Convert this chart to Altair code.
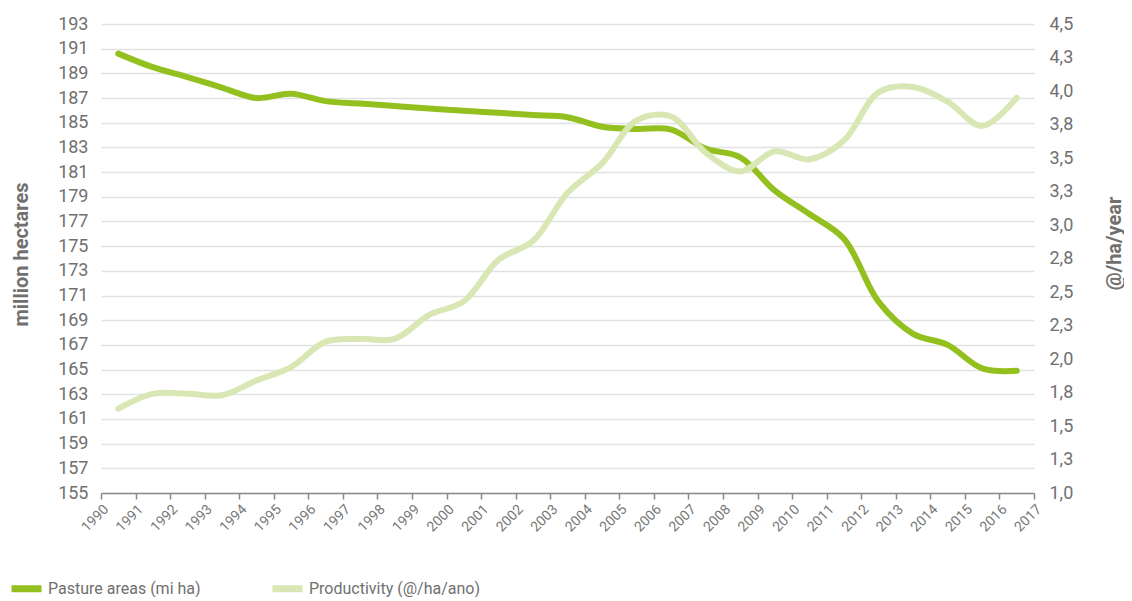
import altair as alt
import pandas as pd

# ---- data ----
years = list(range(1990, 2017))
pasture = [190.6, 189.5, 188.7, 187.85, 187.0, 187.35, 186.75, 186.55, 186.35,
           186.15, 185.98, 185.8, 185.62, 185.45, 184.68, 184.5, 184.45, 182.9,
           182.2, 179.5, 177.6, 175.6, 170.5, 167.9, 167.0, 165.1, 164.9]
productivity = [1.63, 1.74, 1.74, 1.73, 1.84, 1.94, 2.13, 2.15, 2.15,
                2.33, 2.43, 2.74, 2.88, 3.24, 3.46, 3.78, 3.81, 3.54,
                3.40, 3.55, 3.49, 3.63, 3.99, 4.03, 3.92, 3.74, 3.95]
x_ticks = list(range(1990, 2018))
left_ticks = list(range(155, 194, 2))
right_ticks = [1.0, 1.25, 1.5, 1.75, 2.0, 2.25, 2.5, 2.75, 3.0, 3.25, 3.5, 3.75, 4.0, 4.25, 4.5]
series_names = ["Pasture areas (mi ha)", "Productivity (@/ha/ano)"]
colors = ["#93C01F", "#D9E7B4"]

df_p = pd.DataFrame({"year": years, "value": pasture, "series": series_names[0]})
df_q = pd.DataFrame({"year": years, "value": productivity, "series": series_names[1]})

FONT = "Roboto"
GRAY = "#707070"

color = alt.Color(
    "series:N",
    scale=alt.Scale(domain=series_names, range=colors),
    title=None,
    legend=alt.Legend(
        orient="none", legendX=-93, legendY=546, direction="horizontal",
        symbolType="stroke", symbolSize=900, symbolStrokeWidth=7,
        labelFont=FONT, labelFontSize=16, labelColor=GRAY,
        columnPadding=57, labelLimit=400, labelOffset=3,
    ),
)

xenc = alt.X(
    "xpos:Q",
    scale=alt.Scale(domain=[1990, 2017], nice=False, zero=False),
    axis=alt.Axis(
        values=x_ticks, format="d", labelAngle=315, labelAlign="right",
        labelBaseline="top", labelFont=FONT, labelFontSize=14, labelColor="#777777",
        labelPadding=3, labelOverlap=False, labelFlush=False,
        tickSize=6, tickColor="#8a8a8a", tickWidth=1.5,
        domainColor="#8a8a8a", domainWidth=1.5, grid=False, title=None,
    ),
)

left_axis = alt.Axis(
    values=left_ticks, orient="left", title="million hectares",
    grid=True, gridColor="#e2e2e2", gridWidth=1.5, domain=False, ticks=False,
    labelPadding=13, labelFont=FONT, labelFontSize=18, labelColor=GRAY, labelOverlap=False,
    titleFont=FONT, titleFontSize=20, titleFontWeight="bold", titleColor=GRAY,
    titleX=-70, titleY=230, titleAngle=270, titleAlign="center", titleBaseline="bottom",
)

right_axis = alt.Axis(
    values=right_ticks, orient="right", title="@/ha/year",
    labelExpr="replace(format(datum.value, '.1f'), '.', ',')",
    grid=False, domain=False, ticks=False,
    labelPadding=15, labelFont=FONT, labelFontSize=18, labelColor=GRAY, labelOverlap=False,
    titleFont=FONT, titleFontSize=20, titleFontWeight="bold", titleColor=GRAY,
    titleX=90, titleY=219, titleAngle=270, titleAlign="center", titleBaseline="bottom",
)

line_kw = dict(strokeWidth=6, strokeCap="round", strokeJoin="round", interpolate="catmull-rom")

pasture_line = alt.Chart(df_p).transform_calculate(xpos="datum.year + 0.5").mark_line(**line_kw).encode(
    x=xenc,
    y=alt.Y("value:Q", scale=alt.Scale(domain=[155, 193], nice=False, zero=False), axis=left_axis),
    color=color,
)

prod_line = alt.Chart(df_q).transform_calculate(xpos="datum.year + 0.5").mark_line(**line_kw).encode(
    x=xenc,
    y=alt.Y("value:Q", scale=alt.Scale(domain=[1.0, 4.5], nice=False, zero=False), axis=right_axis),
    color=color,
)

chart = (
    alt.layer(pasture_line, prod_line)
    .resolve_scale(y="independent")
    .properties(
        width=933, height=469,
        autosize=alt.AutoSizeParams(type="none"),
        padding={"left": 93, "top": 16, "right": 90, "bottom": 104},
        background="white",
    )
    .configure_view(strokeWidth=0)
)

chart.save("out.html", embed_options={"renderer": "svg", "actions": False})
